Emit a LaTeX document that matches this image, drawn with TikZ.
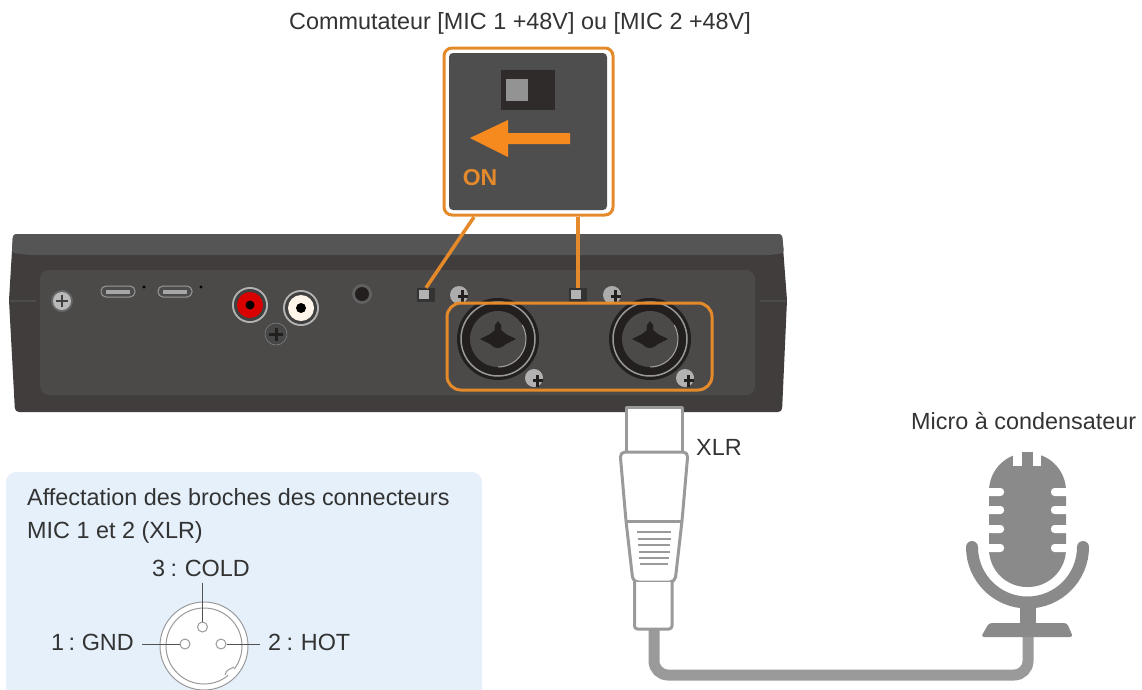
\documentclass[tikz,border=0pt]{standalone}
\usepackage{fontspec}
\setmainfont{Liberation Sans}
\definecolor{orng}{HTML}{E58A2A}
\definecolor{orngB}{HTML}{F68A1E}
\definecolor{bodyD}{HTML}{403D3C}
\definecolor{bodyT}{HTML}{565555}
\definecolor{panelC}{HTML}{4C4A49}
\definecolor{calloutC}{HTML}{4F4E4F}
\definecolor{lineG}{HTML}{9A9A9A}
\definecolor{micG}{HTML}{8A8A8A}
\definecolor{infoB}{HTML}{E5F0FA}
\definecolor{txt}{HTML}{333333}
\definecolor{inkD}{HTML}{231F1E}
\definecolor{swD}{HTML}{2F2B2A}
\tikzset{
  lbl/.style={text=txt,font=\fontsize{23.4}{28}\selectfont,inner sep=0pt},
  lead/.style={draw=orng,line width=3.5pt},
  plug/.style={draw=lineG,line width=3pt,line join=round},
  pinline/.style={draw=txt!85,line width=1pt},
  pinhole/.style={circle,draw=lineG,fill=none,line width=1pt,minimum size=10pt,inner sep=0pt},
}
\newcommand{\mycombo}[2]{%
  \fill[inkD] (#1,#2) circle (41);
  \draw[gray!80!white,line width=1.5pt] (#1,#2) circle (37);
  \fill[panelC] (#1,#2) circle (28);
  \draw[gray!70,line width=1pt] (#1,#2)+(-30:28) arc (-30:90:28);
  \fill[inkD] (#1,#2) circle (9);
  \fill[inkD] (#1-18,#2) -- (#1,#2-9) -- (#1+18,#2) -- (#1,#2+9) -- cycle;
  \fill[inkD] (#1-4,#2-4) -- (#1-3,#2-14) -- (#1,#2-18) -- (#1+3,#2-14) -- (#1+4,#2-4) -- cycle;
}
\begin{document}
\begin{tikzpicture}[x=1pt,y=-1pt]
\useasboundingbox (0,0) rectangle (1142,689);
\clip (0,0) rectangle (1142,689);
% info panel
\fill[infoB,rounded corners=10pt] (6,472) rectangle (482,710);
% device
\fill[bodyD,rounded corners=4pt] (13,234) -- (782,234) -- (787,300) -- (782,412) -- (15,412) -- (9,300) -- cycle;
\fill[bodyT,rounded corners=3pt] (13,234) -- (782,234) -- (784,253) -- (770,255) -- (30,255) -- (12,253) -- cycle;
\fill[black!70] (10,300) rectangle (36,302);
\fill[black!70] (760,300) rectangle (786,302);
\fill[panelC,rounded corners=9pt] (40,270) rectangle (755,395);
% left screw
\fill[black!60] (62,301) circle (11);
\fill[gray!55!white] (62,301) circle (9);
\draw[black!75,line width=2pt] (56,301) -- (68,301) (62,295) -- (62,307);
% usb
\foreach \ux in {118,175}{
  \draw[gray!80!white,line width=1pt,fill=black!70,rounded corners=5pt] (\ux-17,286) rectangle (\ux+17,297);
  \fill[gray!70] (\ux-12,289.5) rectangle (\ux+12,293.5);
}
\fill[black] (144,287) circle (1.6);
\fill[black] (201,287) circle (1.6);
% RCA
\fill[gray!60!white] (250,305) circle (18);
\fill[black!75] (250,305) circle (16);
\fill[red!85!black] (250,305) circle (13);
\fill[black] (250,305) circle (4.5);
\fill[gray!60!white] (301,308) circle (18);
\fill[black!75] (301,308) circle (16);
\fill[white!92!orange] (301,308) circle (13);
\fill[black] (301,308) circle (5);
% lower screw
\fill[black!72] (276,334) circle (11);
\draw[gray,line width=.6pt] (276,334) circle (11);
\fill[inkD] (269,333) rectangle (283,336);
\fill[inkD] (274.5,328) rectangle (277.5,341);
% jack
\fill[gray!75!black] (362,294) circle (10);
\fill[inkD] (362,294) circle (7);
% switches on device
\node[minimum width=18pt,minimum height=14pt,inner sep=0pt,fill=black!80] (swA) at (426,295) {};
\fill[gray!60] (419,290) rectangle (429,299);
\node[minimum width=18pt,minimum height=14pt,inner sep=0pt,fill=black!80] (swB) at (578,295) {};
\fill[gray!60] (571,290) rectangle (581,299);
% screws near combos
\foreach \sx in {459,612}{
  \fill[gray!65] (\sx,295) circle (9);
  \fill[inkD] (\sx-1,295) rectangle (\sx+9,298);
  \fill[inkD] (\sx+2,290) rectangle (\sx+5,302);
}
% combos
\mycombo{498}{339}
\mycombo{650}{339}
\foreach \sx in {534,685}{
  \fill[gray!60] (\sx,378) circle (9);
  \fill[inkD] (\sx-1,379) rectangle (\sx+9,382);
  \fill[inkD] (\sx+2,375) rectangle (\sx+5,387);
}
% orange frame around combos
\node[draw=orng,line width=3pt,rounded corners=14pt,minimum width=265pt,minimum height=87pt,inner sep=0pt] (frame) at (579.5,346.5) {};
% callout
\node[fill=white,draw=orng,line width=3pt,rounded corners=8pt,minimum width=169pt,minimum height=167pt,inner sep=0pt] (callout) at (528.5,131.5) {};
\fill[calloutC,rounded corners=4pt] (449,53) rectangle (607,210);
\coordinate (ca) at (474,217);
\coordinate (cb) at (578,217);
\draw[lead] (ca) -- (swA.north);
\draw[lead] (cb) -- (swB.north);
% callout switch
\fill[swD] (501,70) rectangle (555,110);
\fill[gray!85] (506,79) rectangle (528,101);
\fill[orngB] (470,138) -- (508,120) -- (508,133) -- (570,133) -- (570,144) -- (508,144) -- (508,157) -- cycle;
\node[text=orng,inner sep=0pt,font=\fontsize{23}{26}\selectfont\bfseries] (on) at (480,178) {ON};
% connector
\coordinate (capl) at (654,630);
\coordinate (micl) at (1028,625);
\draw[lineG,line width=11pt,rounded corners=14pt] (capl) -- (654,675) -- (1028,675) -- (micl);
\draw[plug,fill=white] (626,407) rectangle (682,452);
\draw[plug,fill=white,rounded corners=5pt] (620,452) -- (688,452) -- (682,521) -- (675,582) -- (633,582) -- (626,521) -- cycle;
\draw[plug] (626,521) -- (682,521);
\foreach \gy/\gx in {532/17,539/16.5,545/16,552/15.5,558/15,564/14}{
  \draw[lineG,line width=2.2pt] (654-\gx,\gy) -- (654+\gx,\gy);
}
\draw[plug,fill=white,rounded corners=3pt] (634.5,582) -- (634.5,629) -- (672,629) -- (672,582);
% microphone
\draw[micG,line width=12pt,line cap=round] (972,547) arc (180:0:55.5);
\fill[micG,rounded corners=38pt] (989,453) rectangle (1066,587);
\fill[white] (1013,448) rectangle (1022,466);
\fill[white] (1033,448) rectangle (1041,466);
\fill[micG] (1022,452) rectangle (1033,470);
\foreach \my in {492,510,529,548}{
  \fill[white,rounded corners=3.5pt] (980,\my-4) rectangle (1004,\my+4);
  \fill[white,rounded corners=3.5pt] (1051,\my-4) rectangle (1075,\my+4);
}
\fill[micG] (1020,607) rectangle (1036,626);
\fill[micG,rounded corners=3pt] (989,623) -- (1067,623) -- (1073,637) -- (981,637) -- cycle;
% labels
\node[lbl,anchor=center] (t1) at (520,23) {Commutateur [MIC 1 +48V] ou [MIC 2 +48V]};
\node[lbl,anchor=west] (t2) at (696,447) {XLR};
\node[lbl,anchor=west] (t3) at (911,421) {Micro à condensateur};
\node[lbl,anchor=base west] (t4) at (27,505) {Affectation des broches des connecteurs};
\node[lbl,anchor=base west] (t5) at (27,538) {MIC 1 et 2 (XLR)};
\node[lbl,anchor=center] (cold) at (201,568) {3\hspace{-1pt} : \hspace{-1pt}COLD};
\node[lbl,anchor=east] (gnd) at (134,642) {1\hspace{-2pt} : \hspace{-2pt}GND};
\node[lbl,anchor=west] (hot) at (268,642) {2\hspace{-1pt} : \hspace{-1pt}HOT};
% XLR diagram
\node[circle,draw=lineG,fill=white,line width=1pt,minimum size=88pt,inner sep=0pt] (xlr) at (204,646) {};
\draw[lineG,line width=1pt] (204,646) circle (38);
\fill[white] (232,673) circle (4.5);
\draw[lineG,line width=1pt] (225,675) .. controls (226,669) and (231,669) .. (234,667);
\node[pinhole] (p3) at (202.5,627) {};
\node[pinhole] (p1) at (185,644) {};
\node[pinhole] (p2) at (221,644) {};
\coordinate (l3) at (202.5,583);
\coordinate (l1) at (142,644);
\coordinate (l2) at (260,644);
\draw[pinline] (l3) -- (p3.north);
\draw[pinline] (l1) -- (p1.west);
\draw[pinline] (l2) -- (p2.east);
\end{tikzpicture}
\end{document}
